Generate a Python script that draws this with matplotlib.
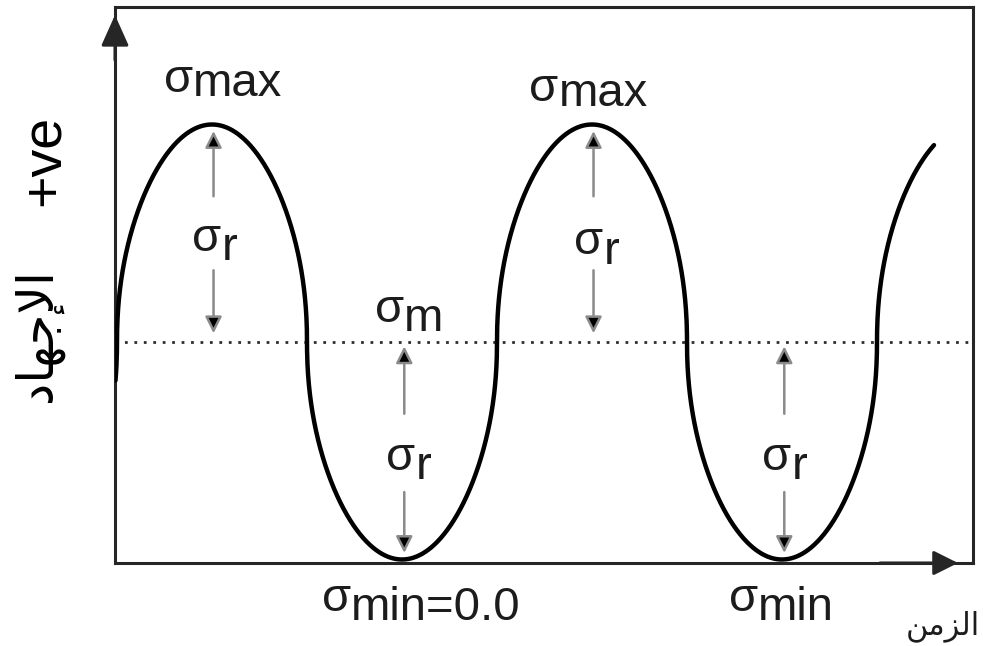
import numpy as np
import matplotlib
matplotlib.use("Agg")
import matplotlib.pyplot as plt

plt.rcParams["font.family"] = ["Liberation Sans", "DejaVu Sans"]

# Stress cycle (in units of the stress range amplitude)
sigma_m = 1.0            # mean stress
sigma_r = 1.0            # range amplitude
sigma_max = sigma_m + sigma_r
sigma_min = sigma_m - sigma_r   # = 0.0
period = 1.0
t_start, t_end = -0.004, 2.15
peak_times = [0.25, 1.25]
trough_times = [0.75, 1.75]
crest_exponent = 0.47    # < 1 gives the broad, steep-sided lobes

# Label text
sub_max = "max"
sub_mean = "m"
sub_min_first = "min=0.0"
sub_min = "min"
sub_range = "r"
y_label_sign = "+ve"
# الإجهاد / الزمن written with Arabic presentation forms (visual order)
y_label_ar = "\uFEA9\uFE8E\uFEEC\uFE9F\uFEF9\uFE8D"
x_label_ar = "\uFEE6\uFEE3\uFEB0\uFEDF\uFE8D"

W, H = 983, 646
X0, XS = 117, 380.0      # pixel of t = 0, pixels per period
Y0, YS = 559.5, 217.5    # pixel of stress = 0, pixels per unit
fig = plt.figure(figsize=(W / 100, H / 100), dpi=100)
ax = fig.add_axes([115 / W, 1 - 563 / H, 858 / W, 556 / H])
ax.set_xlim((115 - X0) / XS, (973 - X0) / XS)
ax.set_ylim((Y0 - 563) / YS, (Y0 - 7) / YS)
ax.set_xticks([])
ax.set_yticks([])
x_left, x_right = ax.get_xlim()
y_bottom, y_top = ax.get_ylim()

frame_col = "#262626"
txt_col = "#1c1c1c"
for sp in ax.spines.values():
    sp.set_linewidth(2.2)
    sp.set_color(frame_col)

# the stress waveform
t = np.linspace(t_start, t_end, 4000)
s = np.sin(2 * np.pi * t / period)
wave = sigma_m + sigma_r * np.sign(s) * np.abs(s) ** crest_exponent
ax.plot(t, wave, color="black", lw=3.2, solid_capstyle="round", zorder=3)

# mean stress line
ax.axhline(sigma_m, color="#2e2e2e", lw=2.0, ls=(0, (1, 2.4)), zorder=2)

# axis arrow heads
ax.annotate("", xy=(x_left, (Y0 - 15) / YS), xytext=(x_left, (Y0 - 60) / YS),
            arrowprops=dict(arrowstyle="-|>,head_length=1.9,head_width=0.85",
                            color=frame_col, lw=2.2, shrinkA=0, shrinkB=0))
ax.annotate("", xy=((958 - X0) / XS, y_bottom), xytext=((880 - X0) / XS, y_bottom),
            arrowprops=dict(arrowstyle="-|>,head_length=1.5,head_width=0.75",
                            color=frame_col, lw=2.2, shrinkA=0, shrinkB=0),
            annotation_clip=False)


def range_arrow(x, y_from, y_to):
    ax.annotate("", xy=(x, y_to), xytext=(x, y_from),
                arrowprops=dict(arrowstyle="-|>,head_length=1.0,head_width=0.5",
                                ec="#8a8a8a", fc="black", lw=1.8,
                                shrinkA=0, shrinkB=0), zorder=4)


def sigma_label(x, y, sub, drop, size=34):
    base = ax.text(x, y, "\u03c3", fontsize=size, ha="left", va="baseline",
                   color=txt_col, clip_on=False)
    ax.annotate(sub, xy=(1, 0), xycoords=base, xytext=(0, -drop),
                textcoords="offset points", ha="left", va="bottom",
                fontsize=size, color=txt_col, annotation_clip=False)


# range arrows at crests and troughs
for tp in peak_times:
    range_arrow(tp + 0.004, sigma_max - 0.33, sigma_max - 0.03)
    range_arrow(tp + 0.004, sigma_m + 0.33, sigma_m + 0.04)
for tt in trough_times:
    range_arrow(tt + 0.006, sigma_m - 0.33, sigma_m - 0.02)
    range_arrow(tt + 0.006, sigma_min + 0.31, sigma_min + 0.03)

# labels
sigma_label(0.124, sigma_max + 0.15, sub_max, 3)
sigma_label(1.085, sigma_max + 0.11, sub_max, 4)
sigma_label(0.679, sigma_m + 0.09, sub_mean, 6)
sigma_label(0.540, sigma_min - 0.235, sub_min_first, 7)
sigma_label(1.611, sigma_min - 0.235, sub_min, 7)
sigma_label(0.198, sigma_m + 0.42, sub_range, 7)
sigma_label(1.203, sigma_m + 0.405, sub_range, 7)
sigma_label(0.709, sigma_min + 0.41, sub_range, 6)
sigma_label(1.698, sigma_min + 0.41, sub_range, 6)

# axis titles
fig.text(45 / W, 1 - 160 / H, y_label_sign, rotation=90, fontsize=40,
         ha="center", va="center", color="black")
fig.text(38 / W, 1 - 335 / H, y_label_ar, rotation=90, fontsize=36,
         ha="center", va="center", color="black", family="DejaVu Sans")
fig.text(943 / W, 1 - 626 / H, x_label_ar, fontsize=22,
         ha="center", va="center", color=txt_col, family="DejaVu Sans")

fig.savefig("out.png", dpi=100)
